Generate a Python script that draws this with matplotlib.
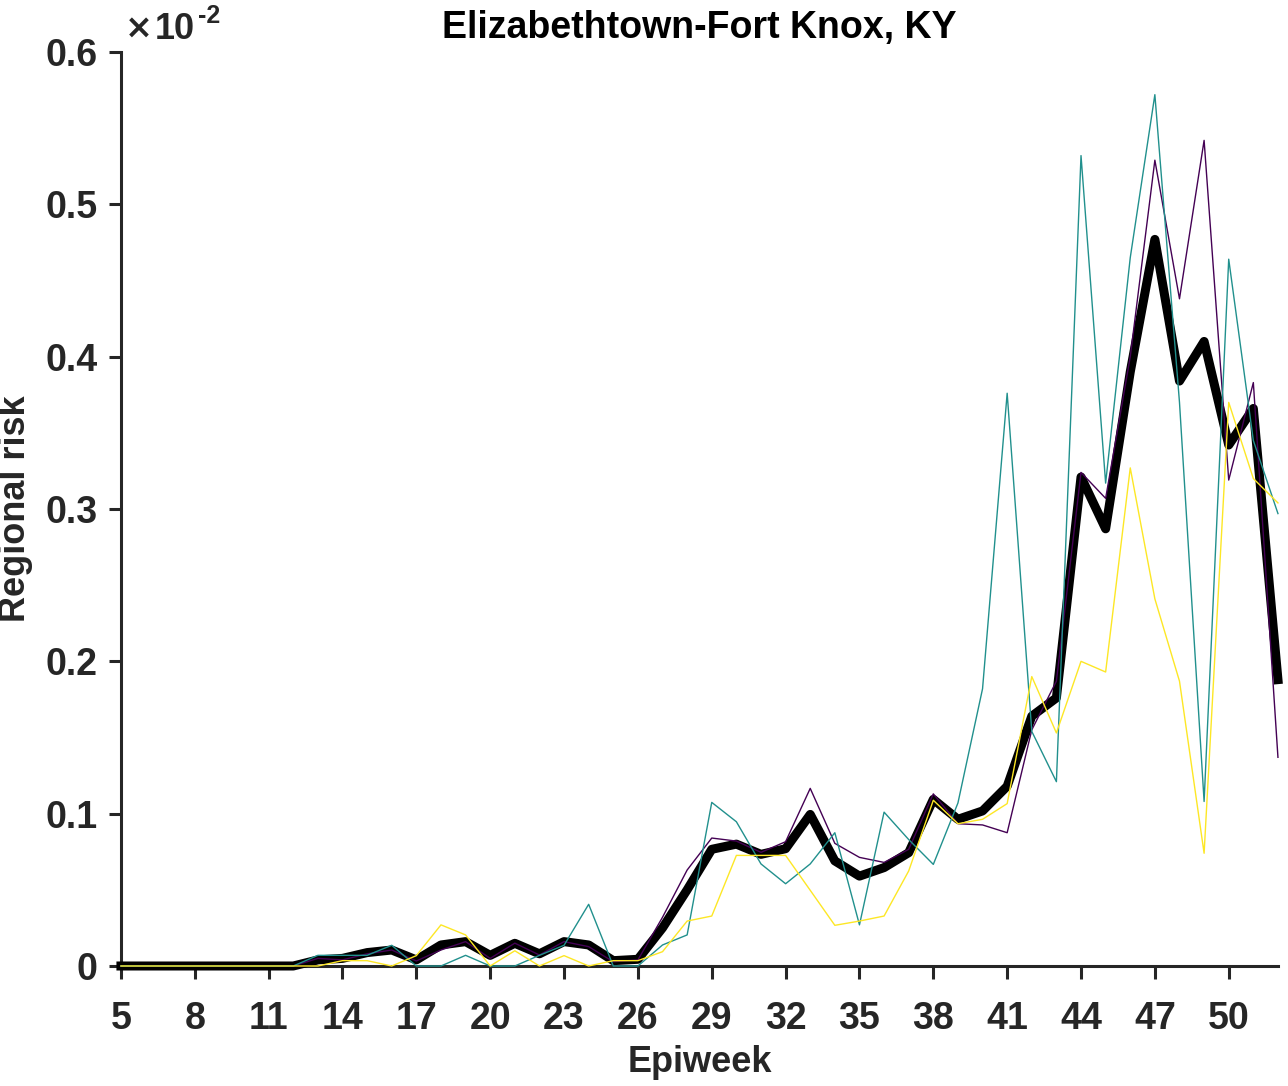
import numpy as np
import matplotlib
matplotlib.use("Agg")
import matplotlib.pyplot as plt

plt.rcParams['font.family'] = ['Liberation Sans', 'DejaVu Sans']
plt.rcParams['font.weight'] = 'bold'

# values in units of 1e-2
weeks = np.arange(5, 53)

risk_purple = [0, 0, 0, 0, 0, 0, 0, 0,
               .005, .004, .008, .0105, .0033, .0105, .016, .005, .015, .0072, .016, .0127, .0028, .004,
               .032, .063, .084, .082, .0746, .0816, .1166, .0805, .0713, .068, .0766, .113, .0934, .0926,
               .0875, .155, .187, .324, .307, .40, .529, .438, .542, .319, .383, .137]

risk_teal = [0, 0, 0, 0, 0, 0, 0, 0,
             .007, .007, .007, .0136, 0, 0, .007, 0, 0, .007, .0136, .0405, 0, 0,
             .0138, .0204, .1074, .0947, .067, .054, .067, .0875, .027, .101, .083, .0667, .107, .182,
             .376, .154, .121, .532, .317, .465, .572, .37, .108, .464, .345, .297]

risk_yellow = [0, 0, 0, 0, 0, 0, 0, 0,
               0, .0035, .0035, 0, .0068, .027, .0204, 0, .010, 0, .0068, 0, .0035, .0035,
               .0094, .0295, .0328, .0726, .0726, .0726, .0497, .0267, .0295, .0328, .0624, .1088, .0934, .0963,
               .1066, .190, .153, .200, .193, .327, .241, .187, .074, .370, .320, .304]

risk_mean = [0, 0, 0, 0, 0, 0, 0, 0,
             .004, .005, .0088, .0105, .004, .0138, .016, .007, .0149, .008, .016, .0138, .0035, .0044,
             .025, .05, .0766, .080, .0733, .077, .0995, .069, .059, .0646, .0744, .1094, .0963, .1018,
             .118, .164, .176, .321, .287, .39, .477, .384, .41, .342, .366, .188]

xticks = np.arange(5, 51, 3)
yticks = [0, 0.1, 0.2, 0.3, 0.4, 0.5, 0.6]
ytick_labels = ['0', '0.1', '0.2', '0.3', '0.4', '0.5', '0.6']

axis_col = '#262626'

fig = plt.figure(figsize=(12.88, 10.86), dpi=100)
ax = fig.add_axes([0.0939, 0.1105, 0.8983, 0.8416])

ax.plot(weeks, risk_mean, color='black', lw=6.5, clip_on=False, zorder=3)
ax.plot(weeks, risk_purple, color='#440154', lw=1.0, clip_on=False, zorder=4)
ax.plot(weeks, risk_teal, color='#21908d', lw=1.0, clip_on=False, zorder=4)
ax.plot(weeks, risk_yellow, color='#fde725', lw=1.0, clip_on=False, zorder=4)

ax.set_xlim(5, 52)
ax.set_ylim(0, 0.6)
ax.set_xticks(xticks)
ax.set_yticks(yticks)
ax.set_yticklabels(ytick_labels)

for s in ['top', 'right']:
    ax.spines[s].set_visible(False)
for s in ['left', 'bottom']:
    ax.spines[s].set_color(axis_col)
    ax.spines[s].set_linewidth(2.2)

ax.tick_params(axis='both', direction='out', length=9, width=2.2, color=axis_col,
               labelsize=27, labelcolor=axis_col)
ax.tick_params(axis='x', pad=16)
ax.tick_params(axis='y', pad=8)

ax.set_xlabel('Epiweek', fontsize=26, fontweight='bold', color=axis_col, labelpad=6)
ax.set_ylabel('Regional risk', fontsize=26, fontweight='bold', color=axis_col)
ax.yaxis.set_label_coords(-0.076, 0.5)
ax.set_title('Elizabethtown-Fort Knox, KY', fontsize=27, fontweight='bold', pad=10)

ax.text(0.003, 1.008, r'$\times$', transform=ax.transAxes, fontsize=24,
        color=axis_col, va='bottom', ha='left')
ax.text(0.029, 1.005, '10', transform=ax.transAxes, fontsize=26,
        color=axis_col, va='bottom', ha='left')
ax.text(0.0665, 1.026, '-2', transform=ax.transAxes, fontsize=18,
        color=axis_col, va='bottom', ha='left')

fig.savefig('out.png', dpi=100)
